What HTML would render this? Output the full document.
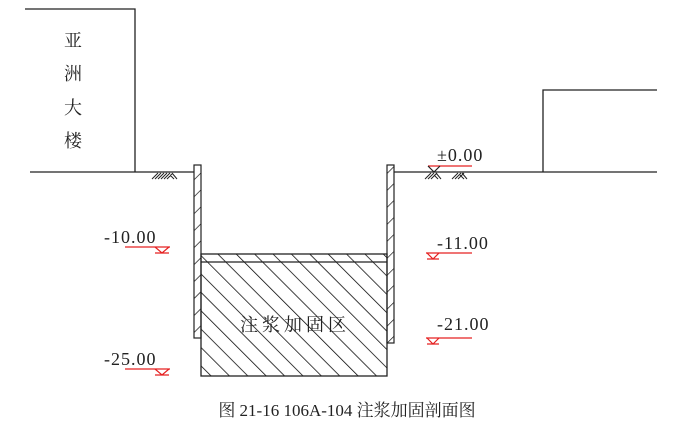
<!DOCTYPE html>
<html><head><meta charset="utf-8"><style>
html,body{margin:0;padding:0;background:#fff;}
svg{display:block;}
text{font-family:"Liberation Serif","Noto Serif CJK SC",serif;}
</style></head><body>
<svg width="679" height="428" viewBox="0 0 679 428" xmlns="http://www.w3.org/2000/svg">
<defs>
<pattern id="hb" width="13" height="13" patternUnits="userSpaceOnUse" patternTransform="rotate(-45)">
<line x1="0" y1="0" x2="0" y2="13" stroke="#000" stroke-width="1.5"/>
</pattern>
<pattern id="hw" width="12" height="12" patternUnits="userSpaceOnUse" patternTransform="rotate(45)">
<line x1="0" y1="0" x2="0" y2="12" stroke="#000" stroke-width="1.3"/>
</pattern>
</defs>
<g stroke="#222" stroke-width="1.3" fill="none">
<polyline points="25,9 135,9 135,172"/>
<line x1="30" y1="172" x2="194" y2="172"/>
<line x1="394" y1="172" x2="657" y2="172"/>
<polyline points="543,172 543,90 657,90"/>
</g>
<g stroke="#222" stroke-width="1">
<path d="M152,179 l6,-6 M155,179 l6,-6 M158,179 l6,-6 M161,179 l6,-6 M164,179 l6,-6 M167,179 l5,-5 M172,173 l5,6 M170,175 l4,4"/>
<path d="M425,179 l6,-6 M428,179 l6,-6 M431,179 l6,-6 M436,173 l5,6 M434,175 l4,4"/>
<path d="M452,179 l6,-6 M455,179 l6,-6 M458,179 l6,-6 M462,173 l5,6 M460,175 l4,4"/>
</g>
<rect x="194" y="165" width="7" height="173" fill="url(#hw)" stroke="#222" stroke-width="1.2"/>
<rect x="387" y="165" width="7" height="178" fill="url(#hw)" stroke="#222" stroke-width="1.2"/>
<rect x="201" y="254" width="186" height="122" fill="url(#hb)"/>
<rect x="201" y="254" width="186" height="122" fill="none" stroke="#222" stroke-width="1.3"/>
<line x1="201" y1="262" x2="387" y2="262" stroke="#222" stroke-width="1.2"/>
<text x="295" y="331" font-size="18" text-anchor="middle" letter-spacing="4" fill="#222">注浆加固区</text>
<g font-size="18" fill="#222" text-anchor="middle">
<text x="73" y="47">亚</text>
<text x="73" y="80">洲</text>
<text x="73" y="114">大</text>
<text x="73" y="147">楼</text>
</g>
<g font-size="18" fill="#222" letter-spacing="1">
<text x="104" y="243">-10.00</text>
<text x="437" y="249">-11.00</text>
<text x="437" y="330">-21.00</text>
<text x="104" y="365">-25.00</text>
<text x="437" y="161">±0.00</text>
</g>
<g stroke="#e52020" stroke-width="1.2" fill="none">
<line x1="125" y1="247" x2="170" y2="247"/><path d="M155,247 l7,6 l7,-6 M155,253 h14"/>
<line x1="426" y1="253" x2="472" y2="253"/><path d="M427,253 l6,6 l6,-6 M427,259 h12"/>
<line x1="426" y1="338" x2="472" y2="338"/><path d="M427,338 l6,6 l6,-6 M427,344 h12"/>
<line x1="125" y1="369" x2="170" y2="369"/><path d="M155,369 l7,6 l7,-6 M155,375 h14"/>
<line x1="428" y1="166" x2="472" y2="166"/>
</g>
<path d="M428,166 l6,6 l6,-6" stroke="#222" stroke-width="1.2" fill="none"/>
<text x="347" y="416" font-size="17" text-anchor="middle" fill="#222">图 21-16 106A-104 注浆加固剖面图</text>
</svg>
</body></html>
